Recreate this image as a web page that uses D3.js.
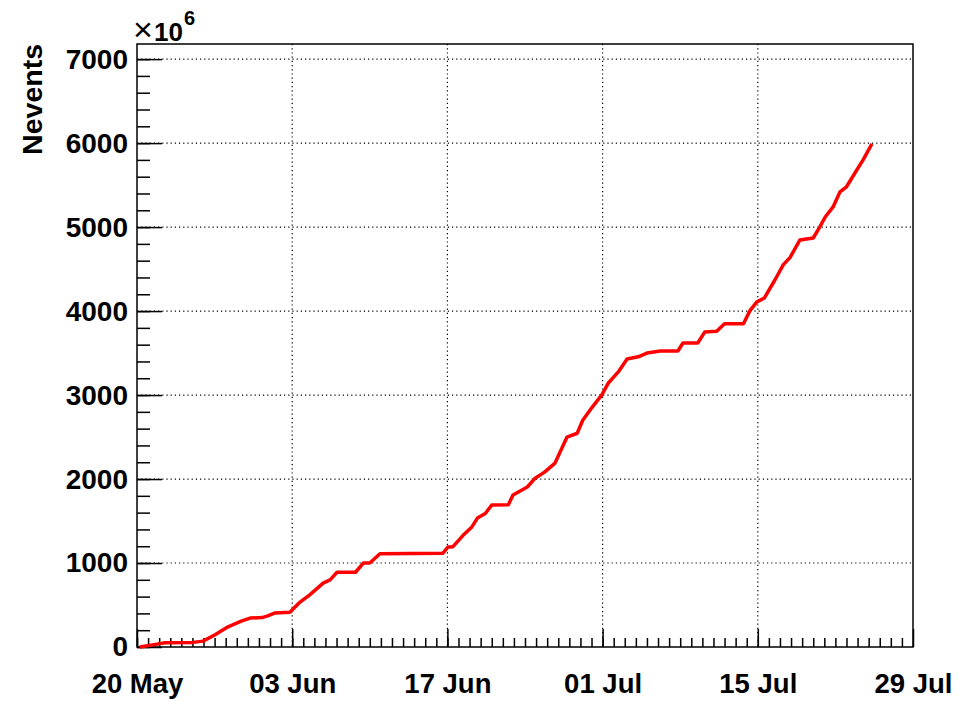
<!DOCTYPE html>
<html>
<head>
<meta charset="utf-8">
<script src="https://cdn.jsdelivr.net/npm/d3@7"></script>
<style>
  body { margin: 0; background: #fff; }
  text { font-family: "Liberation Sans", Arial, Helvetica, sans-serif; font-weight: bold; }
</style>
</head>
<body>
<div class="canva"></div>
<script>
// cumulative number of events (in units of 10^6)
var times = [
  "2012-05-20 06:00", "2012-05-22 02:00", "2012-05-22 12:00", "2012-05-25 01:00",
  "2012-05-25 23:00", "2012-05-27 01:00", "2012-05-28 05:00", "2012-05-29 11:00",
  "2012-05-30 05:00", "2012-05-31 07:00", "2012-05-31 19:00", "2012-06-01 11:00",
  "2012-06-02 19:00", "2012-06-03 17:00", "2012-06-04 14:00", "2012-06-05 19:00",
  "2012-06-06 10:00", "2012-06-07 01:00", "2012-06-08 17:00", "2012-06-09 10:00",
  "2012-06-10 00:00", "2012-06-10 22:00", "2012-06-16 14:00", "2012-06-17 01:00",
  "2012-06-17 12:00", "2012-06-18 10:00", "2012-06-19 05:00", "2012-06-19 17:00",
  "2012-06-20 10:00", "2012-06-21 00:00", "2012-06-22 12:00", "2012-06-22 22:00",
  "2012-06-24 05:00", "2012-06-24 22:00", "2012-06-25 19:00", "2012-06-26 17:00",
  "2012-06-27 19:00", "2012-06-28 17:00", "2012-06-29 05:00", "2012-06-30 00:00",
  "2012-06-30 22:00", "2012-07-01 12:00", "2012-07-02 10:00", "2012-07-03 05:00",
  "2012-07-04 05:00", "2012-07-05 00:00", "2012-07-06 05:00", "2012-07-07 19:00",
  "2012-07-08 06:00", "2012-07-09 14:00", "2012-07-10 05:00", "2012-07-11 07:00",
  "2012-07-12 00:00", "2012-07-13 17:00", "2012-07-14 07:00", "2012-07-14 22:00",
  "2012-07-15 14:00", "2012-07-16 13:00", "2012-07-17 07:00", "2012-07-17 22:00",
  "2012-07-18 19:00", "2012-07-20 00:00", "2012-07-20 14:00", "2012-07-21 02:00",
  "2012-07-21 19:00", "2012-07-22 10:00", "2012-07-23 00:00", "2012-07-23 19:00",
  "2012-07-24 12:00", "2012-07-25 07:00"
];
var nevents = [
  0, 40, 50, 55,
  70, 145, 240, 310,
  345, 350, 370, 405,
  415, 535, 620, 760,
  800, 890, 890, 1000,
  1000, 1110, 1115, 1190,
  1195, 1330, 1430, 1535,
  1590, 1690, 1695, 1810,
  1905, 2010, 2085, 2190,
  2500, 2545, 2700, 2845,
  3000, 3140, 3275, 3430,
  3455, 3500, 3525, 3525,
  3620, 3620, 3750, 3760,
  3850, 3850, 4005, 4110,
  4155, 4370, 4550, 4640,
  4845, 4870, 5000, 5120,
  5240, 5420, 5480, 5650,
  5800, 5990
];
var yTicks = [0, 1000, 2000, 3000, 4000, 5000, 6000, 7000];
var xTickLabels = ["2012-05-20", "2012-06-03", "2012-06-17", "2012-07-01", "2012-07-15", "2012-07-29"];

const parseTime = d3.timeParse("%Y-%m-%d %H:%M");
const parseDay = d3.timeParse("%Y-%m-%d");
const data = times.map(function (t, i) { return { t: parseTime(t), v: nevents[i] }; });

const W = 958, H = 701;
const mLeft = 137, mRight = 913, mTop = 44, mBottom = 647;

const svg = d3.select(".canva").append("svg")
              .attr("width", W)
              .attr("height", H);

const x = d3.scaleTime()
            .domain([parseDay("2012-05-20"), parseDay("2012-07-29")])
            .range([mLeft, mRight]);
const y = d3.scaleLinear()
            .domain([0, 7180])
            .range([mBottom, mTop]);

// dotted grid
svg.append("g").selectAll("line")
   .data(yTicks.slice(1))
   .enter().append("line")
   .attr("x1", mLeft).attr("x2", mRight)
   .attr("y1", function (d) { return y(d); })
   .attr("y2", function (d) { return y(d); })
   .attr("stroke", "#000").attr("stroke-width", 1.2)
   .attr("stroke-dasharray", "1.2,3");
svg.append("g").selectAll("line")
   .data(xTickLabels.slice(1, -1).map(parseDay))
   .enter().append("line")
   .attr("y1", mTop).attr("y2", mBottom)
   .attr("x1", function (d) { return x(d); })
   .attr("x2", function (d) { return x(d); })
   .attr("stroke", "#000").attr("stroke-width", 1.2)
   .attr("stroke-dasharray", "1.2,3");

// y axis: major + minor ticks pointing inside
const yMinor = d3.range(0, 7180, 200);
svg.append("g").attr("transform", "translate(" + mLeft + ",0)")
   .call(d3.axisLeft(y).tickValues(yMinor).tickSize(-13).tickFormat(""))
   .call(function (g) { g.select(".domain").remove(); })
   .selectAll("line").attr("stroke-width", 1.5);
svg.append("g").attr("transform", "translate(" + mLeft + ",0)")
   .call(d3.axisLeft(y).tickValues(yTicks).tickSize(-25).tickPadding(9).tickFormat(d3.format("d")))
   .call(function (g) { g.select(".domain").remove(); })
   .call(function (g) {
       g.selectAll("line").attr("stroke-width", 1.5);
       g.selectAll("text").attr("font-size", 28).attr("fill", "#000");
   });

// x axis: daily minor ticks, major every 14 days
const xMinor = d3.timeDay.range(parseDay("2012-05-20"), parseDay("2012-07-29"));
svg.append("g").attr("transform", "translate(0," + mBottom + ")")
   .call(d3.axisBottom(x).tickValues(xMinor).tickSize(-9).tickFormat(""))
   .call(function (g) { g.select(".domain").remove(); })
   .selectAll("line").attr("stroke-width", 1.5);
svg.append("g").attr("transform", "translate(0," + mBottom + ")")
   .call(d3.axisBottom(x).tickValues(xTickLabels.map(parseDay)).tickSize(-18).tickFormat(d3.timeFormat("%d %b")))
   .call(function (g) { g.select(".domain").remove(); })
   .call(function (g) {
       g.selectAll("line").attr("stroke-width", 1.5);
       g.selectAll("text").attr("font-size", 27.5).attr("fill", "#000")
        .attr("y", 46).attr("dy", 0);
   });

// frame
svg.append("rect")
   .attr("x", mLeft).attr("y", mTop)
   .attr("width", mRight - mLeft).attr("height", mBottom - mTop)
   .attr("fill", "none").attr("stroke", "#000").attr("stroke-width", 1.5);

// data line
const line = d3.line()
               .x(function (d) { return x(d.t); })
               .y(function (d) { return y(d.v); });
svg.append("path")
   .datum(data)
   .attr("d", line)
   .attr("fill", "none")
   .attr("stroke", "#ff0000")
   .attr("stroke-width", 3.5)
   .attr("stroke-linejoin", "round");

// titles
svg.append("text")
   .attr("transform", "translate(42," + mTop + ") rotate(-90)")
   .attr("text-anchor", "end")
   .attr("font-size", 28.5)
   .text("Nevents");

const mult = svg.append("text").attr("y", 41).attr("font-size", 26);
mult.append("tspan").attr("x", 133).attr("font-weight", "normal").attr("font-size", 34).text("\u00d7");
mult.append("tspan").attr("x", 154).text("10");
mult.append("tspan").attr("x", 184).attr("font-size", 20).attr("dy", -16).text("6");
</script>
</body>
</html>
